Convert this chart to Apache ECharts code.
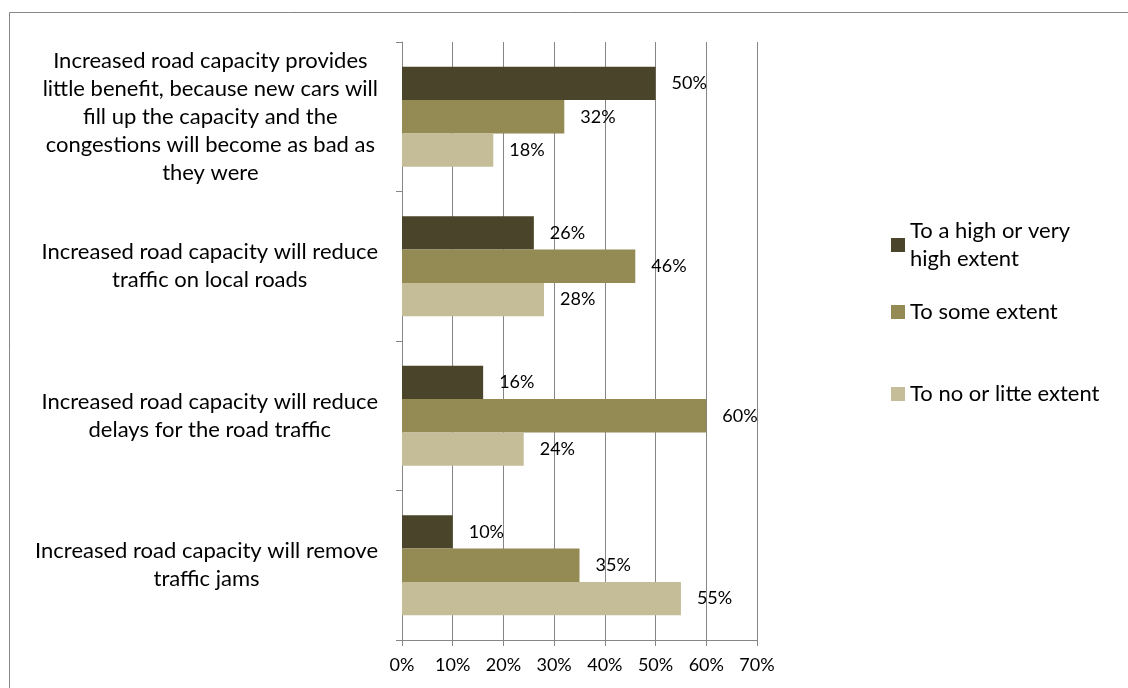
<!DOCTYPE html>
<html>
<head>
<meta charset="utf-8">
<script src="https://cdn.jsdelivr.net/npm/echarts@6/dist/echarts.min.js"></script>
<style>
  html, body { margin: 0; padding: 0; background: #fff; }
  #chart { width: 1128px; height: 688px; }
</style>
</head>
<body>
<div id="chart"></div>
<script>
// categories, top to bottom
const categories = [
  'Increased road capacity provides\nlittle benefit, because new cars will\nfill up the capacity and the\ncongestions will become as bad as\nthey were',
  'Increased road capacity will reduce\ntraffic on local roads',
  'Increased road capacity will reduce\ndelays for the road traffic',
  'Increased road capacity will remove\ntraffic jams'
];
const seriesNames = ['To a high or very high extent', 'To some extent', 'To no or litte extent'];
const highExtent = [50, 26, 16, 10];
const someExtent = [32, 46, 60, 35];
const littleExtent = [18, 28, 24, 55];

const colors = ['#4A452A', '#948A54', '#C4BD97'];
const FONT = 'Lato';
const gray = '#868686';

let myChart = echarts.init(document.getElementById('chart'));

function barSeries(name, data, color) {
  return {
    name: name,
    type: 'bar',
    data: data,
    barGap: '0%',
    barCategoryGap: '33%',
    itemStyle: { color: color },
    label: {
      show: true,
      position: 'right',
      distance: 16,
      formatter: '{c}%',
      color: '#000',
      fontFamily: FONT,
      fontSize: 18
    }
  };
}

// legend item: first one wraps over two lines, icon sits on the first line
function legendAt(name, label, top, twoLines) {
  return {
    show: true,
    orient: 'vertical',
    left: 891,
    top: top,
    padding: 0,
    itemWidth: 14,
    itemHeight: 14,
    itemGap: 5,
    icon: 'rect',
    data: [name],
    formatter: () => label,
    textStyle: {
      fontFamily: FONT,
      fontSize: 22,
      color: '#000',
      lineHeight: 28,
      padding: twoLines ? [28, 0, 0, 0] : 0
    }
  };
}

let option = {
  animation: false,
  color: colors,
  grid: { left: 402, right: 371, top: 42, bottom: 48, containLabel: false },
  legend: [
    legendAt(seriesNames[0], 'To a high or very\nhigh extent', 203, true),
    legendAt(seriesNames[1], seriesNames[1], 298, false),
    legendAt(seriesNames[2], seriesNames[2], 380, false)
  ],
  xAxis: {
    type: 'value',
    min: 0,
    max: 70,
    interval: 10,
    axisLine: { show: true, lineStyle: { color: gray } },
    axisTick: { show: true, length: 6, lineStyle: { color: gray } },
    splitLine: { show: true, lineStyle: { color: gray, width: 1 } },
    axisLabel: {
      formatter: '{value}%',
      color: '#000',
      fontFamily: FONT,
      fontSize: 18,
      margin: 16
    }
  },
  yAxis: {
    type: 'category',
    inverse: true,
    data: categories,
    axisLine: { show: true, lineStyle: { color: gray } },
    axisTick: { show: true, length: 6, lineStyle: { color: gray } },
    axisLabel: {
      color: '#000',
      fontFamily: FONT,
      fontSize: 22,
      lineHeight: 28,
      margin: 24,
      align: 'right',
      // each line centred inside the right-aligned block
      formatter: v => v.split('\n').map(s => '{c|' + s + '}').join('\n'),
      rich: { c: { align: 'center', fontFamily: FONT, fontSize: 22, lineHeight: 28, color: '#000' } }
    }
  },
  graphic: [{
    type: 'rect',
    shape: { x: 9.5, y: 12.5, width: 1300, height: 900 },
    style: { fill: 'none', stroke: gray, lineWidth: 1 },
    silent: true,
    z: -1
  }],
  series: [
    barSeries(seriesNames[0], highExtent, colors[0]),
    barSeries(seriesNames[1], someExtent, colors[1]),
    barSeries(seriesNames[2], littleExtent, colors[2])
  ]
};
myChart.setOption(option);
</script>
</body>
</html>
